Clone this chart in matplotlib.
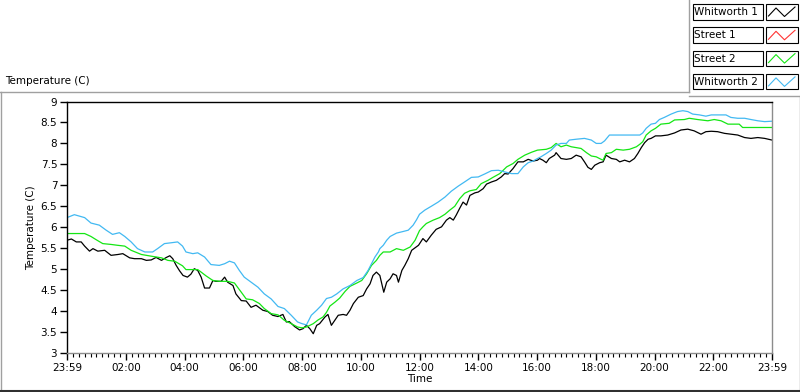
import matplotlib
matplotlib.use("Agg")
import matplotlib.pyplot as plt
from matplotlib.lines import Line2D
from matplotlib.patches import Rectangle
from matplotlib.ticker import MultipleLocator

# minutes since 23:59 of previous day, temperature (C)
wh1_t = [0, 9, 19, 29, 36, 46, 53, 63, 77, 90, 104, 114, 128, 138, 152, 162, 172, 182, 193, 203,
         210, 216, 223, 230, 237, 246, 253, 260, 267, 274, 281, 291, 298, 304, 315, 322, 328, 339, 345, 356,
         366, 376, 386, 400, 410, 420, 431, 441, 448, 454, 465, 475, 482, 489, 496, 503, 510, 516, 527, 533,
         540, 547, 554, 564, 571, 578, 585, 595, 605, 612, 619, 625, 632, 639, 643, 647, 653, 660, 666, 673,
         677, 684, 690, 697, 704, 711, 718, 727, 734, 744, 754, 765, 775, 782, 789, 795, 802, 809, 816, 823,
         833, 840, 850, 857, 867, 877, 887, 894, 901, 911, 921, 932, 942, 952, 961, 965, 972, 979, 985, 996,
         999, 1009, 1020, 1030, 1040, 1050, 1057, 1064, 1071, 1078, 1088, 1095, 1101, 1112, 1122, 1129, 1139, 1149, 1159, 1166,
         1173, 1180, 1187, 1193, 1202, 1213, 1227, 1241, 1254, 1268, 1281, 1295, 1305, 1316, 1329, 1343, 1356, 1370, 1384, 1397,
         1411, 1425, 1440]
wh1_v = [5.69, 5.72, 5.65, 5.65, 5.55, 5.43, 5.49, 5.43, 5.45, 5.33, 5.35, 5.37, 5.27, 5.25, 5.25, 5.21, 5.22, 5.28, 5.21, 5.28,
         5.32, 5.25, 5.09, 4.96, 4.85, 4.81, 4.88, 5.01, 4.97, 4.81, 4.55, 4.55, 4.73, 4.71, 4.71, 4.81, 4.69, 4.61, 4.41, 4.25,
         4.24, 4.09, 4.14, 4.02, 3.99, 3.90, 3.87, 3.92, 3.74, 3.75, 3.63, 3.55, 3.58, 3.66, 3.58, 3.46, 3.66, 3.70, 3.86, 3.92,
         3.66, 3.78, 3.90, 3.92, 3.90, 4.02, 4.18, 4.33, 4.37, 4.53, 4.65, 4.85, 4.93, 4.85, 4.65, 4.45, 4.69, 4.77, 4.89, 4.85,
         4.69, 4.97, 5.09, 5.25, 5.45, 5.51, 5.57, 5.73, 5.65, 5.81, 5.95, 6.01, 6.17, 6.23, 6.17, 6.29, 6.45, 6.60, 6.53, 6.76,
         6.82, 6.84, 6.92, 7.03, 7.08, 7.12, 7.20, 7.28, 7.27, 7.40, 7.56, 7.56, 7.62, 7.58, 7.60, 7.64, 7.60, 7.54, 7.64, 7.72,
         7.78, 7.64, 7.62, 7.64, 7.72, 7.68, 7.56, 7.43, 7.38, 7.48, 7.54, 7.56, 7.72, 7.64, 7.62, 7.56, 7.60, 7.56, 7.64, 7.76,
         7.90, 8.02, 8.10, 8.12, 8.18, 8.18, 8.20, 8.25, 8.32, 8.34, 8.30, 8.22, 8.28, 8.29, 8.28, 8.24, 8.22, 8.20, 8.14, 8.12,
         8.14, 8.12, 8.08]

st1_t = []
st1_v = []

st2_t = [0, 21, 36, 49, 60, 73, 90, 103, 118, 131, 152, 172, 193, 206, 220, 236, 243, 257, 267, 274,
         284, 298, 311, 328, 342, 356, 366, 379, 393, 403, 417, 431, 444, 458, 471, 480, 489, 503, 513, 523,
         530, 537, 547, 557, 568, 578, 592, 602, 612, 622, 632, 639, 646, 660, 673, 687, 701, 711, 720, 727,
         734, 748, 761, 772, 782, 792, 802, 812, 823, 836, 846, 860, 870, 884, 898, 911, 921, 935, 949, 961,
         979, 989, 999, 1009, 1020, 1030, 1040, 1050, 1061, 1071, 1081, 1091, 1095, 1101, 1112, 1122, 1136, 1149, 1163, 1170,
         1176, 1183, 1193, 1202, 1213, 1230, 1241, 1261, 1271, 1288, 1309, 1322, 1336, 1350, 1373, 1380, 1440]
st2_v = [5.85, 5.85, 5.85, 5.78, 5.70, 5.61, 5.59, 5.57, 5.55, 5.45, 5.35, 5.31, 5.27, 5.21, 5.19, 5.08, 4.99, 4.99, 4.99, 4.93,
         4.84, 4.73, 4.71, 4.71, 4.67, 4.45, 4.29, 4.27, 4.18, 4.06, 3.94, 3.91, 3.78, 3.70, 3.62, 3.60, 3.62, 3.70, 3.79, 3.86,
         3.97, 4.12, 4.21, 4.31, 4.47, 4.59, 4.67, 4.73, 4.89, 5.09, 5.21, 5.33, 5.41, 5.41, 5.49, 5.45, 5.53, 5.69, 5.92, 6.01,
         6.09, 6.17, 6.23, 6.31, 6.41, 6.50, 6.68, 6.81, 6.87, 6.90, 7.04, 7.12, 7.19, 7.28, 7.44, 7.52, 7.62, 7.72, 7.79, 7.84,
         7.86, 7.90, 8.00, 7.92, 7.96, 7.92, 7.90, 7.88, 7.78, 7.70, 7.68, 7.62, 7.60, 7.76, 7.78, 7.86, 7.84, 7.86, 7.92, 7.98,
         8.04, 8.20, 8.30, 8.36, 8.46, 8.48, 8.56, 8.57, 8.60, 8.57, 8.54, 8.57, 8.54, 8.46, 8.46, 8.38, 8.38]

wh2_t = [0, 15, 36, 49, 66, 80, 93, 107, 118, 131, 144, 159, 175, 185, 199, 213, 226, 236, 243, 257,
         267, 281, 294, 311, 322, 332, 342, 352, 362, 376, 390, 403, 417, 431, 444, 458, 471, 480, 489, 499,
         510, 520, 530, 540, 551, 564, 578, 592, 605, 615, 622, 629, 636, 639, 646, 653, 660, 673, 687, 697,
         707, 714, 720, 731, 744, 758, 772, 785, 799, 812, 826, 840, 853, 867, 881, 894, 908, 921, 932, 942,
         952, 961, 968, 979, 989, 999, 1009, 1020, 1026, 1040, 1057, 1071, 1081, 1091, 1098, 1108, 1129, 1149, 1170, 1176,
         1183, 1193, 1202, 1210, 1220, 1234, 1247, 1258, 1268, 1278, 1292, 1305, 1316, 1329, 1346, 1356, 1370, 1384, 1397, 1411,
         1425, 1440]
wh2_v = [6.23, 6.30, 6.23, 6.10, 6.05, 5.93, 5.83, 5.87, 5.78, 5.65, 5.49, 5.41, 5.41, 5.49, 5.61, 5.63, 5.65, 5.55, 5.41, 5.37,
         5.39, 5.29, 5.11, 5.09, 5.13, 5.19, 5.15, 4.97, 4.81, 4.69, 4.57, 4.41, 4.29, 4.11, 4.06, 3.90, 3.74, 3.70, 3.67, 3.90,
         4.02, 4.14, 4.30, 4.33, 4.41, 4.53, 4.61, 4.73, 4.80, 4.97, 5.13, 5.29, 5.41, 5.49, 5.57, 5.69, 5.78, 5.86, 5.90, 5.93,
         6.05, 6.18, 6.31, 6.41, 6.50, 6.60, 6.72, 6.86, 6.98, 7.08, 7.19, 7.20, 7.27, 7.35, 7.36, 7.32, 7.28, 7.28, 7.44, 7.54,
         7.58, 7.64, 7.68, 7.76, 7.84, 7.96, 8.00, 8.00, 8.08, 8.10, 8.12, 8.08, 8.00, 8.00, 8.06, 8.20, 8.20, 8.20, 8.20, 8.25,
         8.36, 8.46, 8.48, 8.57, 8.62, 8.70, 8.76, 8.78, 8.76, 8.70, 8.68, 8.65, 8.68, 8.68, 8.68, 8.62, 8.60, 8.60, 8.57, 8.54,
         8.52, 8.53]

names = ["Whitworth 1", "Street 1", "Street 2", "Whitworth 2"]
colors = ["#000000", "#ff3333", "#14e614", "#42b9f2"]

x_ticks = [0, 120, 240, 360, 480, 600, 720, 840, 960, 1080, 1200, 1320, 1440]
x_labels = ["23:59", "02:00", "04:00", "06:00", "08:00", "10:00", "12:00",
            "14:00", "16:00", "18:00", "20:00", "22:00", "23:59"]
y_ticks = [3, 3.5, 4, 4.5, 5, 5.5, 6, 6.5, 7, 7.5, 8, 8.5, 9]

W, H = 800, 392
plt.rcParams["font.family"] = ["DejaVu Sans"]
fs = 7.5

fig = plt.figure(figsize=(W / 100, H / 100), dpi=100)
fig.patch.set_facecolor("white")


def fx(px):
    return px / W


def fy(py):
    return 1 - py / H


ax = fig.add_axes([fx(67), fy(353), (772 - 67) / W, (353 - 101.5) / H])

ax.plot(wh1_t, wh1_v, color=colors[0], lw=0.9)
ax.plot(st1_t, st1_v, color=colors[1], lw=0.9)
ax.plot(st2_t, st2_v, color=colors[2], lw=0.9)
ax.plot(wh2_t, wh2_v, color=colors[3], lw=0.9)

ax.set_xlim(0, 1440)
ax.set_ylim(3, 9)
ax.set_xticks(x_ticks)
ax.set_xticklabels(x_labels)
ax.xaxis.set_minor_locator(MultipleLocator(12))
ax.set_yticks(y_ticks)
ax.set_yticklabels(["%g" % v for v in y_ticks])
ax.tick_params(axis="both", which="major", direction="out", length=5, width=1,
               color="black", labelsize=fs, pad=2)
ax.tick_params(axis="x", which="minor", direction="out", length=3, width=0.8, color="black")
ax.spines["top"].set_color("black")
ax.spines["left"].set_color("black")
ax.spines["right"].set_color("#8c8c8c")
ax.spines["bottom"].set_color("#8c8c8c")
for s in ax.spines.values():
    s.set_linewidth(1)
ax.set_xlabel("Time", fontsize=fs, labelpad=1)
ax.set_ylabel("Temperature (C)", fontsize=fs, labelpad=3)

# panel frame
def fline(xs, ys, color="#a0a0a0", lw=1):
    fig.add_artist(Line2D([fx(x) for x in xs], [fy(y) for y in ys], color=color, lw=lw,
                          transform=fig.transFigure))


fline([0, 689], [92, 92])
fline([689, 689], [0, 92])
fline([689, 800], [95.5, 95.5])
fline([0.5, 0.5], [92, 391])
fline([799.5, 799.5], [95.5, 391])
fline([0, 800], [390.5, 390.5], color="#303030", lw=1.5)

fig.text(fx(5), fy(81), "Temperature (C)", fontsize=fs, va="center", ha="left")

# legend
for i, (name, c) in enumerate(zip(names, colors)):
    top = 4 + i * 23.3
    fig.add_artist(Rectangle((fx(692.5), fy(top + 15.5)), 70 / W, 15.5 / H, fill=False,
                             ec="black", lw=0.8, transform=fig.transFigure))
    fig.add_artist(Rectangle((fx(766), fy(top + 15.5)), 32 / W, 15.5 / H, fill=False,
                             ec="black", lw=0.8, transform=fig.transFigure))
    fig.text(fx(694.5), fy(top + 8), name, fontsize=fs, va="center", ha="left")
    fline([768.5, 776, 784.5, 795], [top + 12, top + 4, top + 12.5, top + 3], color=c, lw=0.8)

fig.savefig("out.png", dpi=100, facecolor="white")
